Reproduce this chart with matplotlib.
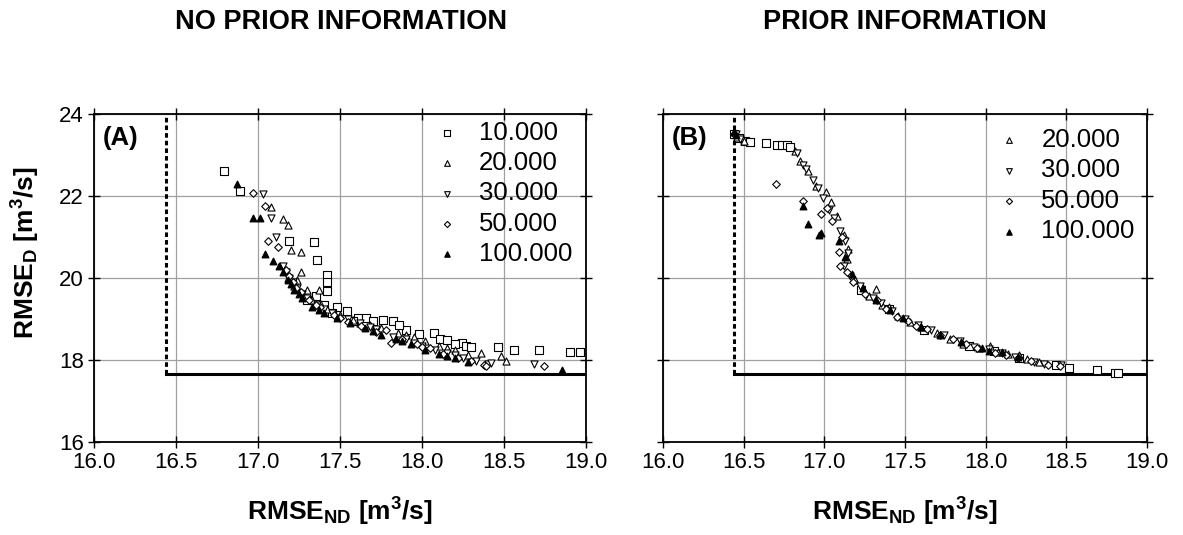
import matplotlib
matplotlib.use('Agg')
import matplotlib.pyplot as plt

plt.rcParams['font.family'] = ['Liberation Sans', 'DejaVu Sans']
plt.rcParams['mathtext.fontset'] = 'custom'
plt.rcParams['mathtext.rm'] = 'Liberation Sans:bold'
plt.rcParams['mathtext.it'] = 'Liberation Sans:bold'
plt.rcParams['mathtext.bf'] = 'Liberation Sans:bold'

# Pareto fronts (RMSE_ND, RMSE_D) for different numbers of model runs
# --- (A) no prior information
a10_x = [16.79, 16.89, 17.19, 17.34, 17.36, 17.42, 17.42, 17.42, 17.35, 17.40, 17.48, 17.54, 17.61, 17.66, 17.70,
         17.76, 17.82, 17.90, 17.98, 18.07, 18.11, 18.15, 18.24, 18.27, 18.30, 18.46, 18.56, 18.71, 18.90, 18.96,
         17.30, 17.45, 17.58, 17.86, 18.20]
a10_y = [22.61, 22.13, 20.89, 20.88, 20.44, 20.06, 19.89, 19.69, 19.55, 19.35, 19.28, 19.20, 19.02, 19.02, 18.95,
         18.98, 18.94, 18.72, 18.63, 18.65, 18.50, 18.49, 18.41, 18.35, 18.31, 18.31, 18.24, 18.23, 18.20, 18.20,
         19.45, 19.15, 18.95, 18.85, 18.38]

a20_x = [17.08, 17.15, 17.18, 17.20, 17.26, 17.26, 17.37, 17.18, 17.22, 17.28, 17.33, 17.42, 17.50, 17.58, 17.68,
         17.75, 17.85, 17.95, 18.02, 18.10, 18.20, 18.28, 18.36, 18.48, 18.51, 17.24, 17.30, 17.38, 17.62, 17.90,
         18.15]
a20_y = [21.72, 21.44, 21.29, 20.67, 20.64, 20.15, 19.71, 20.00, 19.80, 19.60, 19.45, 19.25, 19.10, 18.98, 18.85,
         18.78, 18.65, 18.55, 18.45, 18.35, 18.25, 18.12, 18.16, 18.10, 17.98, 19.95, 19.70, 19.40, 18.90, 18.60,
         18.30]

a30_x = [17.03, 17.08, 17.11, 17.15, 17.19, 17.24, 17.30, 17.36, 17.45, 17.55, 17.62, 17.72, 17.82, 17.90, 18.00,
         18.08, 18.15, 18.25, 18.33, 18.40, 18.42, 18.68, 17.17, 17.21, 17.27, 17.40, 17.68, 17.95, 18.20]
a30_y = [22.04, 21.46, 20.99, 20.30, 20.00, 19.75, 19.50, 19.35, 19.15, 19.00, 18.90, 18.75, 18.55, 18.50, 18.35,
         18.25, 18.18, 18.05, 17.97, 17.89, 17.92, 17.89, 20.15, 19.90, 19.60, 19.25, 18.80, 18.42, 18.12]

a50_x = [16.97, 17.04, 17.06, 17.12, 17.17, 17.21, 17.26, 17.31, 17.38, 17.46, 17.55, 17.63, 17.72, 17.81, 17.88,
         17.97, 18.05, 18.13, 18.22, 18.30, 18.38, 18.39, 18.74, 17.19, 17.23, 17.35, 17.50, 17.78, 18.00]
a50_y = [22.08, 21.76, 20.89, 20.76, 20.20, 19.90, 19.65, 19.45, 19.28, 19.10, 18.93, 18.82, 18.68, 18.42, 18.50,
         18.40, 18.28, 18.15, 18.05, 17.97, 17.88, 17.86, 17.84, 20.05, 19.75, 19.35, 19.02, 18.72, 18.32]

a100_x = [16.87, 16.97, 17.01, 17.04, 17.09, 17.15, 17.18, 17.22, 17.27, 17.33, 17.40, 17.48, 17.56, 17.65, 17.75,
          17.84, 17.93, 18.02, 18.10, 18.20, 18.28, 18.85, 17.13, 17.20, 17.25, 17.37, 17.70, 17.88, 18.15]
a100_y = [22.29, 21.46, 21.46, 20.59, 20.41, 20.15, 19.95, 19.70, 19.50, 19.30, 19.15, 19.02, 18.90, 18.78, 18.62,
          18.50, 18.38, 18.25, 18.15, 18.05, 17.96, 17.76, 20.30, 19.85, 19.60, 19.22, 18.70, 18.45, 18.10]

# --- (B) prior information
b10_x = [16.44, 16.47, 16.51, 16.54, 16.64, 16.71, 16.74, 16.77, 16.79, 17.23, 17.40, 17.62, 17.90, 18.05, 18.21,
         18.44, 18.52, 18.69, 18.80, 18.82]
b10_y = [23.52, 23.42, 23.33, 23.31, 23.28, 23.24, 23.24, 23.24, 23.20, 19.70, 19.25, 18.74, 18.33, 18.22, 18.05,
         17.88, 17.80, 17.75, 17.67, 17.67]

b20_x = [16.46, 16.50, 16.82, 16.85, 16.90, 16.95, 17.01, 17.04, 17.08, 17.12, 17.15, 17.14, 17.19, 17.32, 17.28,
         17.36, 17.40, 17.46, 17.53, 17.60, 17.70, 17.78, 17.86, 17.96, 18.03, 18.08, 18.14, 18.21, 18.26, 18.33]
b20_y = [23.45, 23.35, 23.10, 22.85, 22.60, 22.25, 22.10, 21.85, 21.50, 21.05, 20.70, 20.45, 19.95, 19.72, 19.55,
         19.35, 19.30, 19.08, 18.92, 18.80, 18.66, 18.52, 18.40, 18.30, 18.33, 18.20, 18.15, 18.12, 18.02, 17.95]

b30_x = [16.45, 16.48, 16.83, 16.87, 16.89, 16.93, 16.96, 16.99, 17.03, 17.06, 17.10, 17.13, 17.15, 17.12, 17.16,
         17.22, 17.30, 17.35, 17.42, 17.50, 17.58, 17.66, 17.74, 17.84, 17.93, 18.02, 18.10, 18.18, 18.30, 18.36, 18.47]
b30_y = [23.50, 23.40, 23.05, 22.75, 22.65, 22.40, 22.20, 21.95, 21.65, 21.45, 21.15, 20.90, 20.60, 20.30, 20.05,
         19.80, 19.50, 19.40, 19.20, 19.00, 18.85, 18.72, 18.60, 18.45, 18.32, 18.27, 18.16, 18.08, 17.95, 17.90, 17.87]

b50_x = [16.44, 16.70, 16.87, 16.98, 17.02, 17.05, 17.09, 17.11, 17.10, 17.14, 17.18, 17.25, 17.33, 17.38, 17.45,
         17.52, 17.57, 17.64, 17.72, 17.80, 17.88, 17.95, 18.06, 18.13, 18.20, 18.28, 18.39, 18.46]
b50_y = [23.50, 22.29, 21.88, 21.55, 21.70, 21.40, 20.64, 21.00, 20.30, 20.15, 19.90, 19.60, 19.45, 19.25, 19.05,
         18.95, 18.82, 18.75, 18.62, 18.50, 18.38, 18.30, 18.18, 18.12, 18.05, 17.98, 17.88, 17.86]

b100_x = [16.44, 16.45, 16.87, 16.90, 16.98, 16.97, 17.09, 17.13, 17.17, 17.24, 17.32, 17.41, 17.49, 17.60, 17.72,
          17.85, 17.98, 18.02, 18.10, 18.20]
b100_y = [23.55, 23.48, 21.75, 21.32, 21.10, 21.05, 20.90, 20.50, 20.10, 19.75, 19.45, 19.22, 19.02, 18.80, 18.62,
          18.43, 18.30, 18.22, 18.20, 18.08]

# ideal point (best achievable RMSE_ND / RMSE_D)
ideal_nd = 16.44
ideal_d = 17.65

fig = plt.figure(figsize=(11.83, 5.35), dpi=100)
ax_a = fig.add_axes([0.0795, 0.174, 0.416, 0.613])
ax_b = fig.add_axes([0.5604, 0.174, 0.409, 0.613])

ms = 26
sizes = {'s': 26, '^': 26, 'v': 26, 'D': 15}


def draw_series(ax, series, show_legend_for):
    for x, y, marker, label in series:
        lab = label if label in show_legend_for else None
        if marker == 'fill':
            ax.scatter(x, y, marker='^', color='black', s=ms - 4, label=lab, zorder=3)
        else:
            ax.scatter(x, y, marker=marker, s=sizes[marker], facecolors='white',
                       edgecolors='black', linewidths=0.8, label=lab, zorder=3)


draw_series(ax_a, [(a10_x, a10_y, 's', '10.000'), (a20_x, a20_y, '^', '20.000'),
                   (a30_x, a30_y, 'v', '30.000'), (a50_x, a50_y, 'D', '50.000'),
                   (a100_x, a100_y, 'fill', '100.000')],
            ['10.000', '20.000', '30.000', '50.000', '100.000'])
draw_series(ax_b, [(b10_x, b10_y, 's', '10.000'), (b20_x, b20_y, '^', '20.000'),
                   (b30_x, b30_y, 'v', '30.000'), (b50_x, b50_y, 'D', '50.000'),
                   (b100_x, b100_y, 'fill', '100.000')],
            ['20.000', '30.000', '50.000', '100.000'])

legend_anchor = {'(A)': (0.972, 0.98), '(B)': (0.975, 0.957)}

for ax, tag in [(ax_a, '(A)'), (ax_b, '(B)')]:
    ax.set_xlim(16.0, 19.0)
    ax.set_ylim(16, 24)
    ax.set_xticks([16.0, 16.5, 17.0, 17.5, 18.0, 18.5, 19.0])
    ax.set_yticks([16, 18, 20, 22, 24])
    ax.xaxis.set_major_formatter(matplotlib.ticker.FormatStrFormatter('%.1f'))
    ax.grid(True, color='#a0a0a0', linewidth=0.9)
    ax.set_axisbelow(True)
    ax.tick_params(direction='inout', length=9, width=1, labelsize=16,
                   top=True, right=True, pad=3)
    for sp in ax.spines.values():
        sp.set_linewidth(1.3)
    # ideal-point bounds
    ax.plot([ideal_nd, 19.0], [ideal_d, ideal_d], color='black', lw=2.2, zorder=2)
    ax.plot([ideal_nd, ideal_nd], [ideal_d, 24], color='black', lw=2.2,
            linestyle=(0, (1.5, 1.0)), zorder=2)
    ax.text(0.018, 0.962, tag, transform=ax.transAxes, fontsize=18.5, fontweight='bold',
            va='top', ha='left')
    ax.legend(loc='upper right', frameon=False, fontsize=18.5, labelspacing=0.25,
              handletextpad=0.25, borderaxespad=0, borderpad=0, markerscale=0.8,
              bbox_to_anchor=legend_anchor[tag])
    ax.set_xlabel(r'RMSE$_{ND}$ [m$^{3}$/s]', fontsize=19, fontweight='bold', labelpad=16)

ax_a.set_ylabel(r'RMSE$_{D}$ [m$^{3}$/s]', fontsize=19, fontweight='bold')
ax_a.yaxis.set_label_coords(-0.105, 0.576)
ax_b.tick_params(labelleft=False)

fig.text(0.288, 0.959, 'NO PRIOR INFORMATION', fontsize=19.5, fontweight='bold', ha='center', va='center')
fig.text(0.765, 0.959, 'PRIOR INFORMATION', fontsize=19.5, fontweight='bold', ha='center', va='center')

fig.savefig('out.png', dpi=100)
